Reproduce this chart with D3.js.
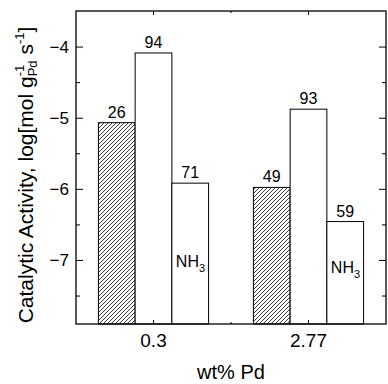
<!DOCTYPE html>
<html>
<head>
<meta charset="utf-8">
<script src="https://cdn.jsdelivr.net/npm/d3@7"></script>
<style>
  html, body { margin: 0; padding: 0; background: #fff; }
  text { font-family: Arial, "Liberation Sans", sans-serif; fill: #000; }
</style>
</head>
<body>
<div id="chart"></div>
<script>
// categories on the x axis (wt% Pd)
const categories = ["0.3", "2.77"];
// series: hatched bar, open bar, NH3 bar (log of activity)
const seriesKeys = ["hatched", "open", "nh3"];
const hatchedValues = [-5.07, -5.98];
const openValues = [-4.09, -4.88];
const nh3Values = [-5.92, -6.46];
// numbers printed above each bar
const hatchedLabels = ["26", "49"];
const openLabels = ["94", "93"];
const nh3Labels = ["71", "59"];
// where the "NH3" note sits inside the NH3 bar (data units)
const nh3NoteY = [-7.1, -7.18];
// y axis ticks
const yMajor = [-7, -6, -5, -4];
const yMinor = [-7.5, -6.5, -5.5, -4.5];
const yDomain = [-7.9, -3.5];

const width = 388, height = 384;
const margin = {top: 11, right: 2, bottom: 60, left: 76};
const innerW = width - margin.left - margin.right;
const innerH = height - margin.top - margin.bottom;

const svg = d3.select("#chart")
  .append("svg")
    .attr("width", width)
    .attr("height", height);

// hatch pattern for the first series
const defs = svg.append("defs");
defs.append("pattern")
    .attr("id", "hatch")
    .attr("patternUnits", "userSpaceOnUse")
    .attr("width", 4)
    .attr("height", 4)
  .call(p => p.append("rect").attr("width", 4).attr("height", 4).attr("fill", "#fff"))
  .append("path")
    .attr("d", "M-1,1 l2,-2 M0,4 l4,-4 M3,5 l2,-2")
    .attr("stroke", "#222")
    .attr("stroke-width", 0.9);

const g = svg.append("g")
    .attr("transform", `translate(${margin.left},${margin.top})`);

const x = d3.scaleBand()
    .domain(categories)
    .range([0, innerW])
    .paddingInner(0)
    .paddingOuter(0);

const xInner = d3.scaleBand()
    .domain(seriesKeys)
    .range([0, x.bandwidth()])
    .paddingInner(0)
    .paddingOuter(0.61);

const y = d3.scaleLinear()
    .domain(yDomain)
    .range([innerH, 0]);

// build rows for the bars
const bars = [];
categories.forEach((c, i) => {
  bars.push({cat: c, key: "hatched", value: hatchedValues[i], label: hatchedLabels[i]});
  bars.push({cat: c, key: "open", value: openValues[i], label: openLabels[i]});
  bars.push({cat: c, key: "nh3", value: nh3Values[i], label: nh3Labels[i], note: nh3NoteY[i]});
});

g.selectAll(".bar")
  .data(bars)
  .join("rect")
    .attr("class", "bar")
    .attr("x", d => x(d.cat) + xInner(d.key))
    .attr("y", d => y(d.value))
    .attr("width", xInner.bandwidth())
    .attr("height", d => innerH - y(d.value))
    .attr("fill", d => d.key === "hatched" ? "url(#hatch)" : "#fff")
    .attr("stroke", "#000")
    .attr("stroke-width", 1);

// value labels above bars
g.selectAll(".barLabel")
  .data(bars)
  .join("text")
    .attr("class", "barLabel")
    .attr("x", d => x(d.cat) + xInner(d.key) + xInner.bandwidth() / 2)
    .attr("y", d => y(d.value) - 5)
    .attr("text-anchor", "middle")
    .style("font-size", "16px")
    .text(d => d.label);

// NH3 notes inside the NH3 bars
const notes = g.selectAll(".note")
  .data(bars.filter(d => d.key === "nh3"))
  .join("text")
    .attr("class", "note")
    .attr("x", d => x(d.cat) + xInner(d.key) + 4)
    .attr("y", d => y(d.note))
    .style("font-size", "16px");
notes.append("tspan").text("NH");
notes.append("tspan").attr("dy", 5).style("font-size", "11px").text("3");

// frame
g.append("rect")
    .attr("width", innerW)
    .attr("height", innerH)
    .attr("fill", "none")
    .attr("stroke", "#000")
    .attr("stroke-width", 1.3);

// y axes, ticks pointing inward, on both sides
const fmt = d3.format("d");
g.append("g")
    .call(d3.axisRight(y).tickValues(yMajor).tickSize(7).tickFormat(""));
g.append("g")
    .call(d3.axisRight(y).tickValues(yMinor).tickSize(4).tickFormat(""));
g.append("g")
    .attr("transform", `translate(${innerW},0)`)
    .call(d3.axisLeft(y).tickValues(yMajor).tickSize(7).tickFormat(""));
g.append("g")
    .attr("transform", `translate(${innerW},0)`)
    .call(d3.axisLeft(y).tickValues(yMinor).tickSize(4).tickFormat(""));

// y tick labels
g.selectAll(".yLabel")
  .data(yMajor)
  .join("text")
    .attr("class", "yLabel")
    .attr("x", -7)
    .attr("y", d => y(d) + 6)
    .attr("text-anchor", "end")
    .style("font-size", "17px")
    .text(d => fmt(d));

// x ticks (top and bottom, inward)
const xCenter = d => x(d) + x.bandwidth() / 2;
const xMinor = [x.bandwidth()];
[0, innerH].forEach(yy => {
  const dir = yy === 0 ? 1 : -1;
  g.selectAll(null)
    .data(categories)
    .join("line")
      .attr("x1", xCenter).attr("x2", xCenter)
      .attr("y1", yy).attr("y2", yy + dir * 4)
      .attr("stroke", "#000");
  g.selectAll(null)
    .data(xMinor)
    .join("line")
      .attr("x1", d => d).attr("x2", d => d)
      .attr("y1", yy).attr("y2", yy + dir * 2)
      .attr("stroke", "#000");
});
g.selectAll(".domain").remove();
g.selectAll(".tick line").attr("stroke", "#000").attr("stroke-width", 1);

// x tick labels
g.selectAll(".xLabel")
  .data(categories)
  .join("text")
    .attr("class", "xLabel")
    .attr("x", xCenter)
    .attr("y", innerH + 23)
    .attr("text-anchor", "middle")
    .style("font-size", "19px")
    .text(d => d);

// x title
svg.append("text")
    .attr("x", 231)
    .attr("y", 379)
    .attr("text-anchor", "middle")
    .style("font-size", "20px")
    .text("wt% Pd");

// y title with stacked sub/superscript
const yTitle = svg.append("text")
    .attr("transform", "translate(33,175) rotate(-90)")
    .attr("text-anchor", "middle")
    .style("font-size", "21px");
yTitle.append("tspan").text("Catalytic Activity, log[mol g");
const sup1 = yTitle.append("tspan").attr("dy", -9).style("font-size", "13px").text("-1");
const sub1 = yTitle.append("tspan").attr("dy", 13).style("font-size", "13px").text("Pd");
sub1.attr("dx", -sup1.node().getComputedTextLength());
yTitle.append("tspan").attr("dy", -4).text(" s");
yTitle.append("tspan").attr("dy", -9).style("font-size", "13px").text("-1");
yTitle.append("tspan").attr("dy", 9).text("]");
</script>
</body>
</html>
